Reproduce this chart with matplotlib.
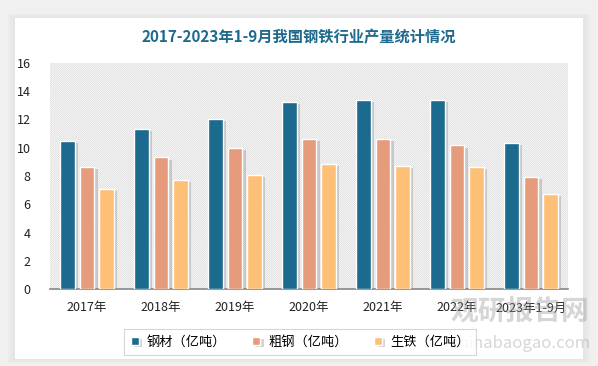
import matplotlib.pyplot as plt
import matplotlib.patheffects as pe
from matplotlib.patches import Rectangle
import numpy as np

plt.rcParams['font.family'] = ['Noto Sans CJK SC', 'DejaVu Sans']
plt.rcParams['hatch.linewidth'] = 0.5
plt.rcParams['hatch.color'] = '#d6d6d6'

years = ['2017年', '2018年', '2019年', '2020年', '2021年', '2022年', '2023年1-9月']
steel = [10.48, 11.33, 12.05, 13.25, 13.37, 13.40, 10.31]
crude = [8.67, 9.31, 9.96, 10.65, 10.59, 10.16, 7.95]
pig = [7.11, 7.71, 8.09, 8.88, 8.69, 8.64, 6.72]
names = ['钢材（亿吨）', '粗钢（亿吨）', '生铁（亿吨）']
colors = ['#1c6b8f', '#e69c7c', '#fec076']

fig = plt.figure(figsize=(5.98, 3.66), dpi=100)
fig.patch.set_facecolor('#f0f0f0')

# background: white card with soft shadow
bg = fig.add_axes([0, 0, 1, 1], zorder=-10)
bg.set_xlim(0, 1)
bg.set_ylim(0, 1)
bg.axis('off')
for i, a in enumerate([0.05, 0.05, 0.06]):
    d = (3 - i) * 0.004
    bg.add_patch(Rectangle((0.025 - d, 0.02 - d), 0.95 + 2 * d, 0.93 + 2 * d,
                           facecolor='#b0b0b0', edgecolor='none', alpha=a))
bg.add_patch(Rectangle((0.025, 0.02), 0.95, 0.93, facecolor='white', edgecolor='none'))

ax = fig.add_axes([50 / 598, 1 - 289 / 366, 518 / 598, 226 / 366], zorder=1)
ax.set_facecolor('none')
ax.add_patch(Rectangle((0, 0), 1, 1, transform=ax.transAxes, facecolor='white',
                       edgecolor='#d6d6d6', hatch='\\' * 16, linewidth=0, zorder=0))

x = np.arange(len(years))
w = 0.2
off = 0.265
shadow = [pe.SimplePatchShadow(offset=(2.5, -1.5), shadow_rgbFace='#777777', alpha=0.3), pe.Normal()]
for k, (vals, c, n) in enumerate(zip([steel, crude, pig], colors, names)):
    bars = ax.bar(x + (k - 1) * off, vals, w, color=c, edgecolor='white', linewidth=1.0,
                  label=n, zorder=3)
    for b in bars:
        b.set_path_effects(shadow)

ax.set_xlim(-0.5, 6.5)
ax.set_ylim(0, 16)
ax.set_yticks(range(0, 17, 2))
ax.set_xticks(x)
ax.set_xticklabels(years)
ax.tick_params(length=0, labelsize=9, colors='#222222')
ax.tick_params(axis='x', pad=9)
ax.tick_params(axis='y', pad=14)
for s in ['top', 'right', 'left']:
    ax.spines[s].set_visible(False)
ax.spines['bottom'].set_color('#888888')
ax.spines['bottom'].set_linewidth(1.2)

fig.text(0.5, 1 - 37 / 366, '2017-2023年1-9月我国钢铁行业产量统计情况', ha='center', va='center',
         fontsize=11, fontweight='bold', color='#1f6a8c')

leg = fig.legend(loc='center', bbox_to_anchor=(300 / 598, 1 - 342 / 366), ncol=3,
                 frameon=True, fancybox=False, edgecolor='#cccccc', fontsize=9.5,
                 handlelength=0.6, handleheight=0.6, columnspacing=2.0, handletextpad=0.6,
                 borderpad=0.5)
leg.get_frame().set_linewidth(0.8)

# watermark
fig.text(520 / 598, 1 - 312 / 366, '观研报告网', ha='center', va='center', fontsize=20,
         fontweight='bold', color='#9a9a9a', alpha=0.4, zorder=5)
fig.text(520 / 598, 1 - 343 / 366, 'chinabaogao.com', ha='center', va='center', fontsize=12,
         color='#9a9a9a', alpha=0.4, zorder=5)

fig.savefig('out.png', dpi=100, facecolor=fig.get_facecolor())
